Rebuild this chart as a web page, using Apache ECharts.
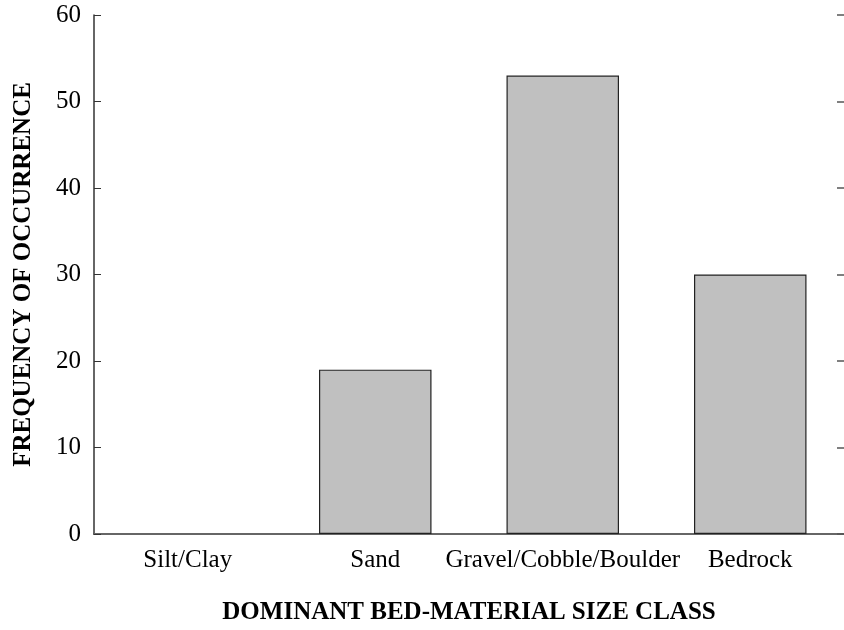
<!DOCTYPE html>
<html>
<head>
<meta charset="utf-8">
<script src="https://cdn.jsdelivr.net/npm/echarts@6/dist/echarts.min.js"></script>
<style>html,body{margin:0;padding:0;background:#fff;overflow:hidden}#c{width:844px;height:630px}</style>
</head>
<body>
<div id="c"></div>
<script>
const categories = ["Silt/Clay", "Sand", "Gravel/Cobble/Boulder", "Bedrock"];
const frequency = [0, 19, 53, 30];
const yTicks = [0, 10, 20, 30, 40, 50, 60];
const xTitle = "DOMINANT BED-MATERIAL SIZE CLASS";
const yTitle = "FREQUENCY OF OCCURRENCE";

const font = "Liberation Serif";
const chart = echarts.init(document.getElementById('c'), null, {renderer: 'canvas'});
chart.setOption({
  animation: false,
  backgroundColor: '#fff',
  grid: {left: 94, top: 15, height: 525, width: 753},
  xAxis: [{
    type: 'category',
    data: categories,
    position: 'bottom',
    boundaryGap: true,
    axisLine: {lineStyle: {color: '#000', width: 1.5}},
    axisTick: {inside: true, length: 7, alignWithLabel: true, lineStyle: {color: '#000', width: 1}},
    axisLabel: {fontFamily: font, fontSize: 25, color: '#000', margin: 14, interval: 0},
    name: xTitle,
    nameLocation: 'middle',
    nameGap: 66,
    nameTextStyle: {fontFamily: font, fontSize: 25, fontWeight: 'bold', color: '#000'}
  }, {
    type: 'category',
    data: categories,
    position: 'top',
    boundaryGap: true,
    axisLine: {lineStyle: {color: '#666', width: 1.8}},
    axisTick: {inside: true, length: 7, alignWithLabel: true, lineStyle: {color: '#000', width: 1}},
    axisLabel: {show: false}
  }],
  yAxis: [{
    type: 'value',
    min: yTicks[0],
    max: yTicks[yTicks.length - 1],
    interval: 10,
    position: 'left',
    axisLine: {show: true, lineStyle: {color: '#333', width: 1.5}},
    axisTick: {show: true, inside: true, length: 7, lineStyle: {color: '#333', width: 1}},
    axisLabel: {fontFamily: font, fontSize: 25, color: '#000', margin: 13},
    splitLine: {show: false},
    name: yTitle,
    nameLocation: 'middle',
    nameGap: 58,
    nameRotate: 90,
    nameTextStyle: {fontFamily: font, fontSize: 25, fontWeight: 'bold', color: '#000'}
  }, {
    type: 'value',
    min: yTicks[0],
    max: yTicks[yTicks.length - 1],
    interval: 10,
    position: 'right',
    axisLine: {show: false},
    axisTick: {show: true, inside: true, length: 7, lineStyle: {color: '#555', width: 1.5}},
    axisLabel: {show: false},
    splitLine: {show: false}
  }],
  series: [{
    type: 'bar',
    data: frequency.map(v => ({value: v, itemStyle: v === 0 ? {borderWidth: 0} : {}})),
    barWidth: '60%',
    itemStyle: {color: '#c0c0c0', borderColor: '#222', borderWidth: 1.2}
  }]
});
</script>
</body>
</html>
